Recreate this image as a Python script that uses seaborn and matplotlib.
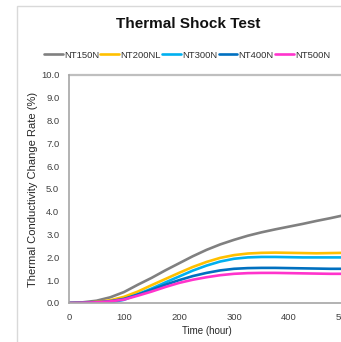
import pandas as pd
import matplotlib
matplotlib.use("Agg")
import matplotlib.pyplot as plt
import seaborn as sns
from matplotlib.patches import Rectangle

# data
hours = list(range(0, 501, 25))
nt150n = [0.0, 0.03, 0.1, 0.25, 0.48, 0.8, 1.1, 1.43, 1.74, 2.05, 2.33,
          2.57, 2.77, 2.95, 3.1, 3.23, 3.35, 3.47, 3.6, 3.72, 3.85]
nt200nl = [0.0, 0.01, 0.04, 0.12, 0.27, 0.5, 0.78, 1.05, 1.32, 1.58, 1.8,
           1.98, 2.1, 2.17, 2.2, 2.21, 2.2, 2.19, 2.18, 2.19, 2.2]
nt300n = [0.0, 0.0, 0.0, 0.02, 0.14, 0.38, 0.63, 0.9, 1.16, 1.42, 1.64,
          1.82, 1.94, 2.0, 2.02, 2.02, 2.01, 2.0, 2.0, 2.0, 2.0]
nt400n = [0.0, 0.01, 0.03, 0.08, 0.18, 0.37, 0.58, 0.8, 1.0, 1.18, 1.32,
          1.43, 1.5, 1.53, 1.54, 1.54, 1.53, 1.52, 1.51, 1.5, 1.5]
nt500n = [0.0, 0.01, 0.03, 0.07, 0.15, 0.32, 0.5, 0.7, 0.88, 1.02, 1.13,
          1.22, 1.28, 1.31, 1.32, 1.32, 1.31, 1.3, 1.29, 1.28, 1.28]
names = ["NT150N", "NT200NL", "NT300N", "NT400N", "NT500N"]
colors = ["#808080", "#FFC000", "#00B0F0", "#0070C0", "#FF33CC"]

series = [nt150n, nt200nl, nt300n, nt400n, nt500n]
df = pd.concat([pd.DataFrame({"hour": hours, "rate": s, "name": n})
                for s, n in zip(series, names)])

sns.set_theme(style="white")
plt.rcParams["font.family"] = ["Liberation Sans", "DejaVu Sans"]

fig = plt.figure(figsize=(3.41, 3.42), dpi=100)
fig.patches.append(Rectangle((17/341, -0.2), 1.2, 1.2 - 6/342,
                             transform=fig.transFigure, fill=False,
                             edgecolor="#d9d9d9", linewidth=1))
ax = fig.add_axes([69/341, 39/342, 275/341, 228/342])

sns.lineplot(data=df, x="hour", y="rate", hue="name", palette=colors,
             linewidth=1.9, ax=ax, legend=False)

ax.set_xlim(0, 500)
ax.set_ylim(0, 10)
ax.set_xticks(range(0, 501, 100))
ax.set_yticks(range(0, 11))
ax.set_yticklabels([f"{v:.1f}" for v in range(0, 11)])
ax.tick_params(labelsize=6.8, colors="#404040", length=0, pad=7)
ax.axhline(10, color="#bfbfbf", linewidth=1.6, clip_on=False)
for s in ["top", "right"]:
    ax.spines[s].set_visible(False)
for s in ["left", "bottom"]:
    ax.spines[s].set_color("#a6a6a6")
    ax.spines[s].set_linewidth(1.2)
ax.set_xlabel("Time (hour)", fontsize=7, color="#262626", labelpad=3)
ax.set_ylabel("Thermal Conductivity Change Rate (%)", fontsize=8,
              color="#262626", labelpad=2)

fig.text(188/341, 1 - 24/342, "Thermal Shock Test", fontsize=11,
         fontweight="bold", ha="center", va="center", color="#111111")

handles = [plt.Line2D([], [], color=c, linewidth=1.9) for c in colors]
fig.legend(handles, names, loc="center", bbox_to_anchor=(187/341, 1 - 55/342),
           ncol=5, frameon=False, fontsize=6.8, handlelength=2.0,
           handletextpad=0.1, columnspacing=0.15, labelcolor="#303030")

fig.savefig("out.png", dpi=100)
